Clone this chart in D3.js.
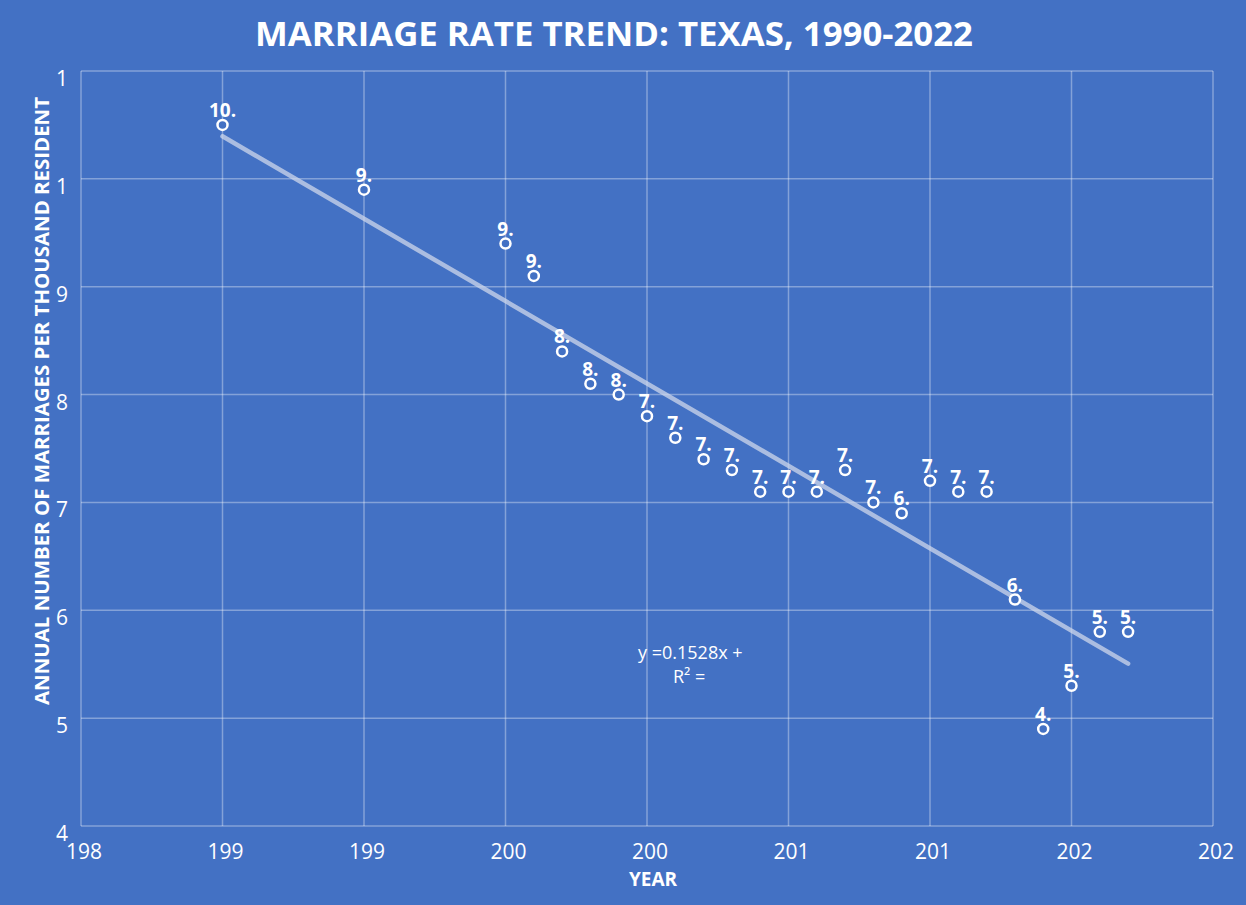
<!DOCTYPE html>
<html>
<head>
<meta charset="utf-8">
<script src="https://cdn.jsdelivr.net/npm/d3@7"></script>
<style>
  body { margin: 0; background: #4371c4; }
  text { font-family: "Open Sans", "Noto Sans", sans-serif; fill: #fff; }
</style>
</head>
<body>
<div id="container"></div>
<script>
/* CONSTANTS AND GLOBALS */
const width = 1246;
const height = 905;
const bg = "#4371c4";

/* DATA */
const years = [1990, 1995, 2000, 2001, 2002, 2003, 2004, 2005, 2006, 2007, 2008, 2009, 2010,
  2011, 2012, 2013, 2014, 2015, 2016, 2017, 2018, 2019, 2020, 2021, 2022];
const rates = [10.5, 9.9, 9.4, 9.1, 8.4, 8.1, 8.0, 7.8, 7.6, 7.4, 7.3, 7.1, 7.1,
  7.1, 7.3, 7.0, 6.9, 7.2, 7.1, 7.1, 6.1, 4.9, 5.3, 5.8, 5.8];
const xTicks = [1985, 1990, 1995, 2000, 2005, 2010, 2015, 2020, 2025];
const yTicks = [4, 5, 6, 7, 8, 9, 10, 11];
const title = "MARRIAGE RATE TREND: TEXAS, 1990-2022";
const xTitle = "YEAR";
const yTitle = "ANNUAL NUMBER OF MARRIAGES  PER THOUSAND RESIDENT";
const eqLines = ["y =0.1528x +", "R\u00B2 ="];

const data = years.map((y, i) => ({ year: y, rate: rates[i] }));

/* SCALES */
const xScale = d3.scaleLinear().domain([1985, 2025]).range([81, 1213]);
const yScale = d3.scaleLinear().domain([4, 11]).range([826, 71]);

const svg = d3.select("#container")
  .append("svg")
  .attr("width", width)
  .attr("height", height);

svg.append("rect").attr("width", width).attr("height", height).attr("fill", bg);

// gridlines
svg.append("g")
  .selectAll("line")
  .data(xTicks)
  .join("line")
  .attr("x1", d => xScale(d)).attr("x2", d => xScale(d))
  .attr("y1", yScale(11)).attr("y2", yScale(4))
  .attr("stroke", "rgba(255,255,255,0.35)")
  .attr("stroke-width", 1.5);

svg.append("g")
  .selectAll("line")
  .data(yTicks)
  .join("line")
  .attr("x1", xScale(1985)).attr("x2", xScale(2025))
  .attr("y1", d => yScale(d)).attr("y2", d => yScale(d))
  .attr("stroke", "rgba(255,255,255,0.35)")
  .attr("stroke-width", 1.5);

// tick labels (truncated as in the original)
svg.append("g")
  .selectAll("text")
  .data(xTicks)
  .join("text")
  .attr("x", d => xScale(d) + 3)
  .attr("y", 859)
  .attr("text-anchor", "middle")
  .style("font-size", "21px")
  .text(d => String(d).slice(0, 3));

svg.append("g")
  .selectAll("text")
  .data(yTicks)
  .join("text")
  .attr("x", 68)
  .attr("y", d => yScale(d) + 15)
  .attr("text-anchor", "end")
  .style("font-size", "21px")
  .text(d => String(d).slice(0, 1));

// trendline (least squares)
const mx = d3.mean(years), my = d3.mean(rates);
const slope = d3.sum(data, d => (d.year - mx) * (d.rate - my)) / d3.sum(data, d => (d.year - mx) ** 2);
const icpt = my - slope * mx;
const x0 = d3.min(years), x1 = d3.max(years);
svg.append("line")
  .attr("x1", xScale(x0)).attr("y1", yScale(icpt + slope * x0))
  .attr("x2", xScale(x1)).attr("y2", yScale(icpt + slope * x1))
  .attr("stroke", "rgba(205,215,235,0.75)")
  .attr("stroke-width", 4.5)
  .attr("stroke-linecap", "round");

// points
svg.append("g")
  .selectAll("circle")
  .data(data)
  .join("circle")
  .attr("cx", d => xScale(d.year))
  .attr("cy", d => yScale(d.rate))
  .attr("r", 5)
  .attr("fill", bg)
  .attr("stroke", "#fff")
  .attr("stroke-width", 2.5);

// point labels
svg.append("g")
  .selectAll("text")
  .data(data)
  .join("text")
  .attr("x", d => xScale(d.year))
  .attr("y", d => yScale(d.rate) - 8)
  .attr("text-anchor", "middle")
  .style("font-size", "19px")
  .style("font-weight", "bold")
  .text(d => Math.floor(d.rate) + ".");

// equation
const eqX = [638, 673];
svg.append("g")
  .selectAll("text")
  .data(eqLines)
  .join("text")
  .attr("x", (d, i) => eqX[i])
  .attr("y", (d, i) => 659 + i * 24)
  .style("font-size", "18px")
  .text(d => d);

// titles
svg.append("text")
  .attr("x", 614).attr("y", 46)
  .attr("text-anchor", "middle")
  .attr("textLength", 718)
  .attr("lengthAdjust", "spacingAndGlyphs")
  .style("font-size", "34px")
  .style("font-weight", "bold")
  .text(title);

svg.append("text")
  .attr("x", 653).attr("y", 886)
  .attr("text-anchor", "middle")
  .style("font-size", "19px")
  .style("font-weight", "bold")
  .text(xTitle);

svg.append("text")
  .attr("transform", "translate(49,401) rotate(-90)")
  .attr("text-anchor", "middle")
  .attr("textLength", 608)
  .attr("lengthAdjust", "spacingAndGlyphs")
  .style("font-size", "20px")
  .style("font-weight", "bold")
  .text(yTitle);
</script>
</body>
</html>
